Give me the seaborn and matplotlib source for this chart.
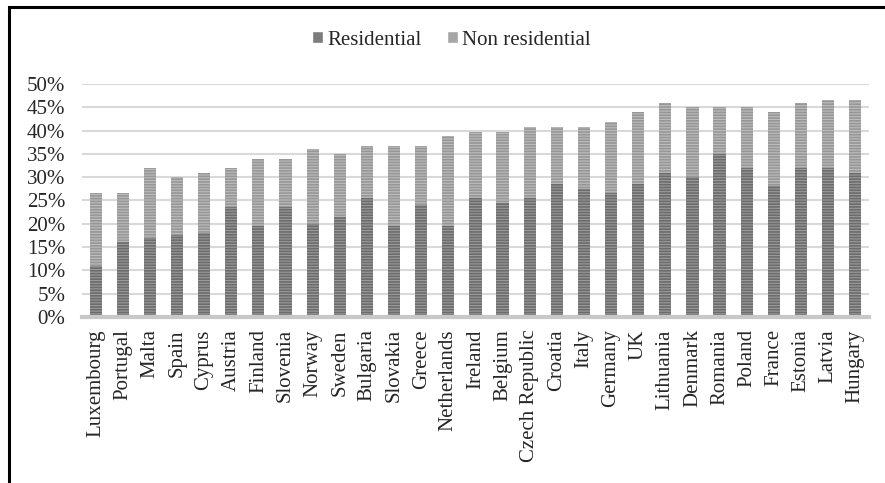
import numpy as np
import pandas as pd
import matplotlib
matplotlib.use("Agg")
import matplotlib.pyplot as plt
from matplotlib.patches import Rectangle, Patch
from matplotlib.ticker import FuncFormatter
import seaborn as sns

# data (share in %)
countries = ["Luxembourg", "Portugal", "Malta", "Spain", "Cyprus", "Austria", "Finland",
             "Slovenia", "Norway", "Sweden", "Bulgaria", "Slovakia", "Greece", "Netherlands",
             "Ireland", "Belgium", "Czech Republic", "Croatia", "Italy", "Germany", "UK",
             "Lithuania", "Denmark", "Romania", "Poland", "France", "Estonia", "Latvia", "Hungary"]
residential = [11, 16, 17, 17.5, 18, 23.5, 19.5, 23.5, 20, 21.5, 25.5, 19.5, 24, 19.5,
               25.5, 24.5, 25.5, 28.5, 27.5, 26.5, 28.5, 31, 30, 35, 32, 28, 32, 32, 31]
non_residential = [15.7, 10.7, 15, 12.5, 13, 8.5, 14.5, 10.5, 16, 13.5, 11.2, 17.2, 12.7, 19.3,
                   14.3, 15.3, 15.3, 12.3, 13.3, 15.3, 15.5, 15, 15, 10, 13, 16, 14, 14.6, 15.6]

df = pd.DataFrame({"country": countries,
                   "res": np.array(residential) / 100,
                   "nonres": np.array(non_residential) / 100})
df["total"] = df["res"] + df["nonres"]

sns.set_style("white")
plt.rcParams["font.family"] = ["Liberation Serif", "DejaVu Serif"]
plt.rcParams["hatch.linewidth"] = 1.2

fig = plt.figure(figsize=(8.85, 4.83), dpi=100)
ax = fig.add_axes([0.0927, 0.344, 0.889, 0.482])

# stacked bars: total first, residential on top of it
sns.barplot(data=df, x="country", y="total", color="#bcbcbc", width=0.45,
            saturation=1, ax=ax, edgecolor="#979797", linewidth=0, hatch="------")
sns.barplot(data=df, x="country", y="res", color="#9a9a9a", width=0.45,
            saturation=1, ax=ax, edgecolor="#6c6c6c", linewidth=0, hatch="------")

ax.set_ylim(0, 0.5)
ax.set_yticks(np.arange(0, 0.51, 0.05))
ax.yaxis.set_major_formatter(FuncFormatter(lambda v, p: f"{v * 100:.0f}%"))
ax.grid(axis="y", color="#d9d9d9", linewidth=1.5)
ax.set_axisbelow(True)
for s in ["top", "right", "left"]:
    ax.spines[s].set_visible(False)
ax.spines["bottom"].set_color("#c8c8c8")
ax.spines["bottom"].set_linewidth(3)
ax.tick_params(axis="x", rotation=90, length=0, pad=9, labelsize=15)
ax.tick_params(axis="y", length=0, pad=12, labelsize=15)
ax.set_xlabel("")
ax.set_ylabel("")

handles = [Patch(facecolor="#7c7c7c"), Patch(facecolor="#a6a6a6")]
fig.legend(handles, ["Residential", "Non residential"], loc="center",
           bbox_to_anchor=(0.51, 0.917), ncol=2, frameon=False, fontsize=15,
           handlelength=0.55, handleheight=0.55, handletextpad=0.2, columnspacing=1.2)

# frame around the figure (cut off at right and bottom)
fig.patches.append(Rectangle((0.010, -0.2), 1.2, 1.186, transform=fig.transFigure,
                             fill=False, edgecolor="black", linewidth=2.2))

fig.savefig("out.png", dpi=100)
